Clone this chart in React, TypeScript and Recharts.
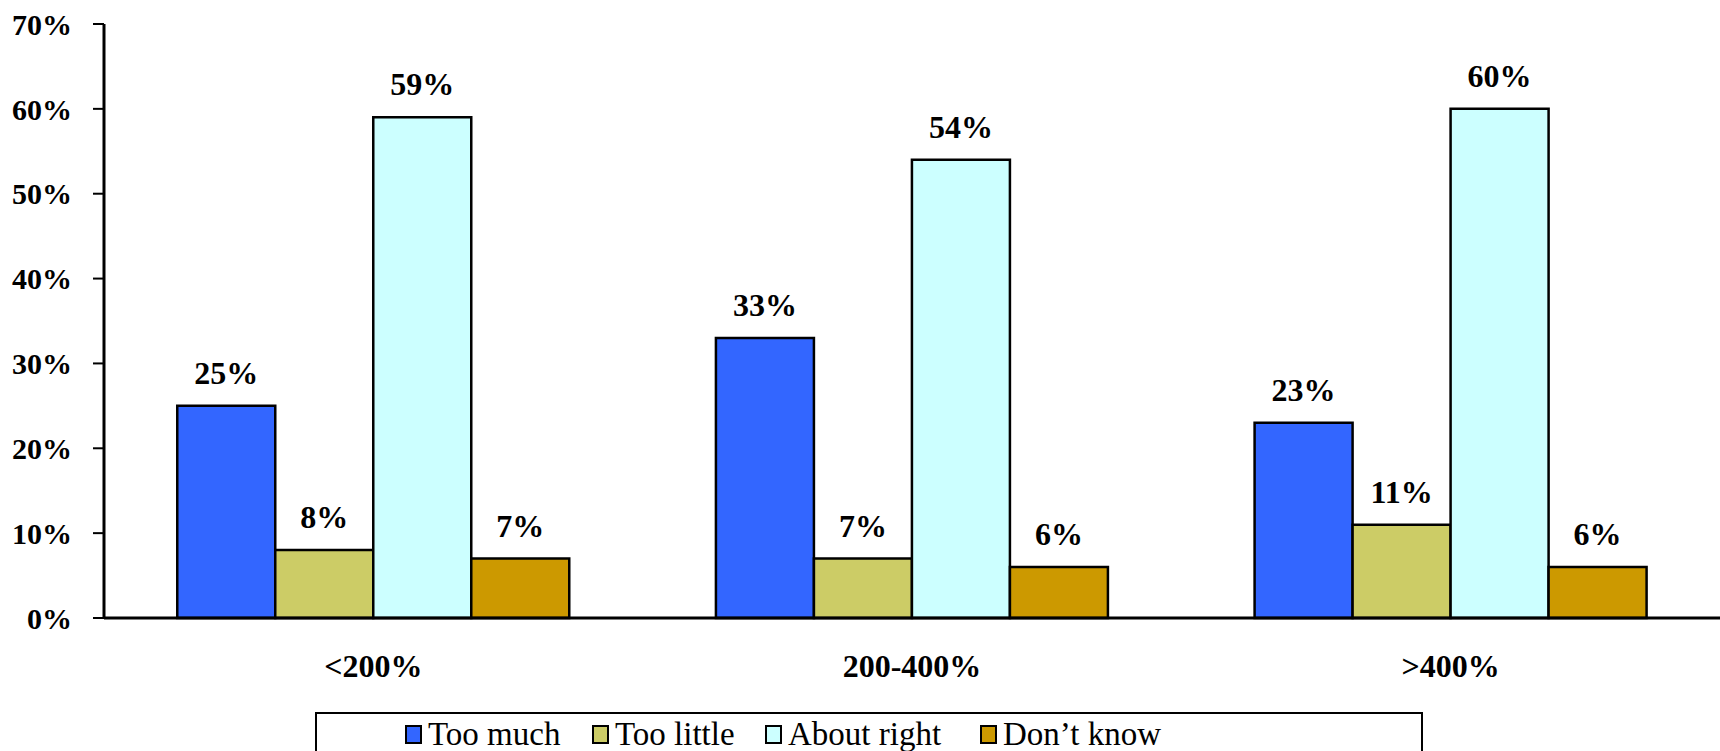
import { Bar, BarChart, LabelList, Legend, XAxis, YAxis } from 'recharts';

const CATEGORIES = ['<200%', '200-400%', '>400%'];
const TOO_MUCH = [25, 33, 23];
const TOO_LITTLE = [8, 7, 11];
const ABOUT_RIGHT = [59, 54, 60];
const DONT_KNOW = [7, 6, 6];
const Y_TICKS = [0, 10, 20, 30, 40, 50, 60, 70];

const SERIES = [
  { key: 'tooMuch', name: 'Too much', fill: '#3366FF' },
  { key: 'tooLittle', name: 'Too little', fill: '#CCCC66' },
  { key: 'aboutRight', name: 'About right', fill: '#CCFFFF' },
  { key: 'dontKnow', name: 'Don\u2019t know', fill: '#CC9900' },
];

const data = CATEGORIES.map((name, i) => ({
  name,
  pos: i,
  tooMuch: TOO_MUCH[i],
  tooLittle: TOO_LITTLE[i],
  aboutRight: ABOUT_RIGHT[i],
  dontKnow: DONT_KNOW[i],
}));

const FONT = 'Liberation Serif';
const yTick = { fill: '#000', fontFamily: FONT, fontWeight: 700, fontSize: 30 };
const xTick = { fill: '#000', fontFamily: FONT, fontWeight: 700, fontSize: 32 };

// left edge of each legend item inside the box
const LEGEND_X = [88, 275, 448, 663];

function LegendBox() {
  return (
    <div style={{ position: 'relative', height: '100%', fontFamily: FONT, fontSize: 33, color: '#000' }}>
      {SERIES.map((s, i) => (
        <div
          key={s.key}
          style={{
            position: 'absolute',
            left: LEGEND_X[i],
            top: 0,
            height: '100%',
            display: 'flex',
            alignItems: 'center',
            whiteSpace: 'nowrap',
          }}
        >
          <span
            style={{
              display: 'inline-block',
              width: 13,
              height: 15,
              background: s.fill,
              border: '2px solid #000',
              marginRight: 6,
            }}
          />
          <span>{s.name}</span>
        </div>
      ))}
    </div>
  );
}

export default function App() {
  return (
    <div
      style={{
        position: 'absolute',
        left: 0,
        top: 0,
        width: 1720,
        height: 751,
        background: '#fff',
        fontFamily: FONT,
      }}
    >
      <BarChart
        width={1720}
        height={751}
        data={data}
        margin={{ top: 24, right: 0, bottom: 73, left: 0 }}
        barCategoryGap="13.6%"
        barGap={0}
      >
        <XAxis
          xAxisId="sep"
          type="number"
          dataKey="pos"
          domain={[0, 3]}
          ticks={[0, 1, 2, 3]}
          allowDataOverflow
          height={0}
          axisLine={false}
          tick={false}
          tickSize={10}
          tickLine={{ stroke: '#000', strokeWidth: 3 }}
        />
        <XAxis
          dataKey="name"
          height={60}
          axisLine={{ stroke: '#000', strokeWidth: 3 }}
          tickLine={false}
          tickSize={0}
          tickMargin={36}
          tick={xTick}
        />
        <YAxis
          domain={[0, 70]}
          ticks={Y_TICKS}
          width={104}
          tickFormatter={(v) => `${v}%`}
          axisLine={{ stroke: '#000', strokeWidth: 3 }}
          tickLine={{ stroke: '#000', strokeWidth: 2 }}
          tickSize={11}
          tickMargin={21}
          tick={yTick}
        />
        <Legend
          layout="horizontal"
          verticalAlign="middle"
          align="center"
          content={<LegendBox />}
          wrapperStyle={{
            position: 'absolute',
            left: 315,
            top: 712,
            width: 1108,
            height: 44,
            border: '2px solid #000',
            boxSizing: 'border-box',
            background: '#fff',
          }}
        />
        {SERIES.map((s) => (
          <Bar
            key={s.key}
            dataKey={s.key}
            name={s.name}
            fill={s.fill}
            stroke="#000"
            strokeWidth={2.5}
            isAnimationActive={false}
          >
            <LabelList
              dataKey={s.key}
              position="top"
              offset={22}
              formatter={(v: number) => `${v}%`}
              fill="#000"
              fontFamily={FONT}
              fontWeight={700}
              fontSize={32}
            />
          </Bar>
        ))}
      </BarChart>
    </div>
  );
}
